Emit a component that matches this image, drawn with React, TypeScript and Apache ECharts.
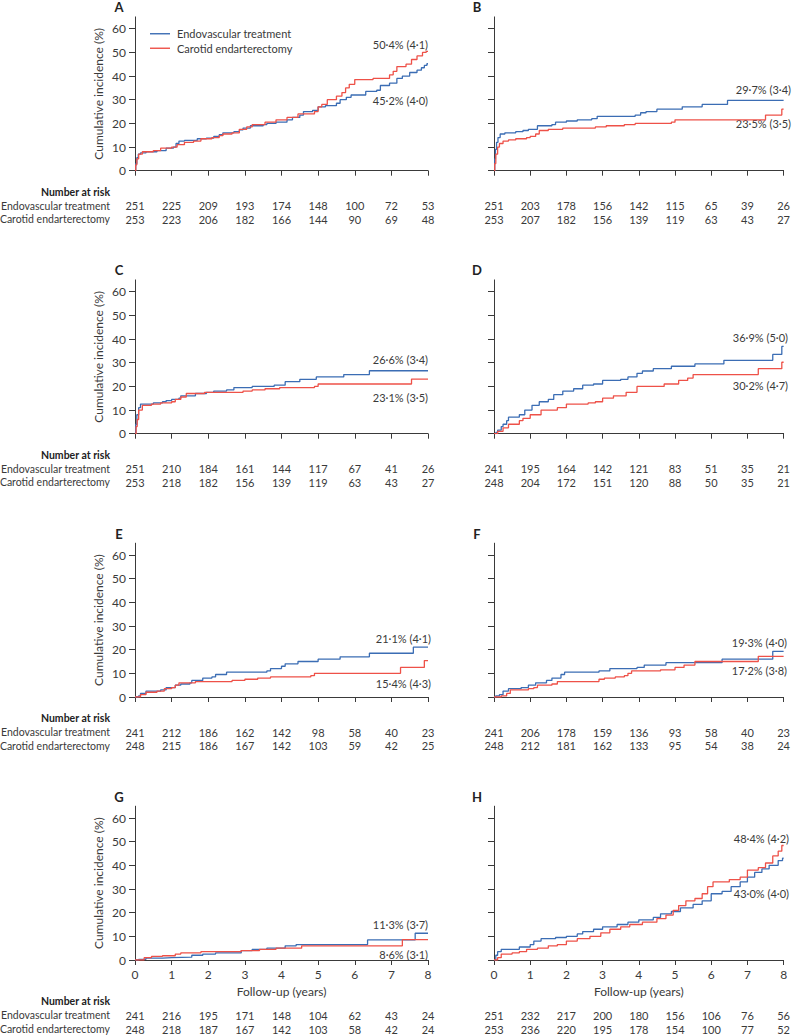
import React, { useEffect, useRef } from 'react';
import * as echarts from 'echarts';

// ---------- data ----------
const seriesNames = ['Endovascular treatment', 'Carotid endarterectomy'];
const panelLetters = ['A', 'B', 'C', 'D', 'E', 'F', 'G', 'H'];
const yTicks = [0, 10, 20, 30, 40, 50, 60];
const riskCategories = [0, 1, 2, 3, 4, 5, 6, 7, 8];

const endoA = [[0,0],[0.02,3],[0.05,5.5],[0.09,7],[0.15,7.5],[0.3,8],[0.6,8.5],[0.85,9.5],[1.05,10],[1.12,11.5],[1.2,12.5],[1.35,12.8],[1.7,13.5],[1.95,13.8],[2.15,14.5],[2.3,15.2],[2.4,16],[2.7,16.5],[2.85,17.3],[2.95,18],[3.15,19],[3.5,19.5],[3.6,20],[3.85,20.5],[4.15,21.5],[4.3,22.5],[4.5,23.5],[4.6,25],[4.85,25.5],[5.0,27],[5.2,27.5],[5.5,28.5],[5.6,30],[5.77,31],[5.9,32],[6.3,33.5],[6.6,34],[6.7,36],[6.95,37],[7.15,39],[7.3,40],[7.5,41.5],[7.7,42.5],[7.82,43.5],[7.9,44.5],[7.97,45.2],[8,45.2]];
const ceaA = [[0,0],[0.02,2.5],[0.05,5],[0.1,7],[0.2,8],[0.5,8.5],[0.7,9.5],[1.0,10],[1.15,11],[1.35,12],[1.6,12.5],[1.8,13.5],[2.1,14],[2.3,14.8],[2.4,15.5],[2.65,16],[2.85,17.5],[3.05,18.5],[3.2,19.5],[3.55,20.5],[3.85,21.5],[4.15,22.5],[4.45,24],[4.9,25],[5.0,27],[5.1,28],[5.25,30],[5.5,31.5],[5.65,33],[5.75,35],[5.85,36.5],[6.0,38.5],[6.5,39],[6.95,40.5],[7.05,42],[7.15,44],[7.4,45],[7.55,47],[7.7,48.5],[7.85,50],[7.95,50.4],[8,50.4]];

const endoB = [[0,0],[0.02,5],[0.04,9],[0.07,12],[0.11,14],[0.17,15.5],[0.3,16],[0.6,16.5],[0.8,17],[0.95,17.5],[1.2,19],[1.6,19.5],[1.7,20.5],[2.0,21],[2.3,21.5],[2.7,22],[2.85,23],[3.9,23.5],[4.05,24.5],[4.2,25],[4.5,26],[5.2,27],[5.75,28],[6.45,29.7],[8,29.7]];
const ceaB = [[0,0],[0.02,3],[0.05,7],[0.1,10],[0.15,11.5],[0.25,12.5],[0.4,13],[0.6,13.5],[0.9,14],[1.0,14.5],[1.15,15.5],[1.25,17],[1.5,17.5],[1.9,18],[2.8,18.5],[3.1,19],[3.6,19.5],[3.9,20],[4.9,20.5],[5.0,21.5],[7.5,23.5],[7.95,26],[8,26]];

const endoC = [[0,0],[0.02,4],[0.05,8],[0.1,11],[0.15,12.5],[0.5,13],[0.75,13.5],[0.85,14],[1.0,14.5],[1.2,15],[1.25,16],[1.65,17],[1.95,17.5],[2.15,18],[2.5,18.5],[2.7,19.5],[3.2,20],[3.8,20.5],[4.1,22],[4.5,23],[4.95,24],[5.7,25],[6.4,26.6],[8,26.6]];
const ceaC = [[0,0],[0.03,3],[0.06,6],[0.1,10],[0.2,12],[0.45,12.5],[0.7,13],[1.0,13.5],[1.1,14.5],[1.25,15.5],[1.4,17],[1.9,17.5],[2.95,18],[3.2,18.5],[3.55,19],[3.95,19.5],[4.9,20],[5.0,21],[7.55,23.1],[8,23.1]];

const endoD = [[0,0],[0.05,0.5],[0.1,1.5],[0.2,3],[0.25,4],[0.35,5.5],[0.4,7],[0.7,8],[0.85,10],[1.05,12],[1.25,13.5],[1.5,14.5],[1.65,16.5],[1.9,18],[2.2,19],[2.45,20.5],[2.75,21],[3.0,22.5],[3.5,23],[3.7,24],[3.95,25.5],[4.1,26.5],[4.4,27.5],[4.9,28.5],[5.55,29.5],[6.35,31],[7.7,33.5],[7.95,36.9],[8,36.9]];
const ceaD = [[0,0],[0.1,1],[0.25,2.5],[0.4,4],[0.7,5.5],[0.8,6.5],[1.0,8],[1.3,10],[1.75,11],[2.0,12.5],[2.6,13],[2.8,13.5],[3.0,15],[3.3,16],[3.65,17.5],[3.95,20],[4.7,21],[5.1,22.5],[5.35,23.5],[5.5,25],[7.3,27.5],[7.95,30.2],[8,30.2]];

const endoE = [[0,0],[0.1,0.5],[0.15,1.5],[0.3,2.5],[0.7,3],[0.85,4],[1.1,5],[1.25,5.5],[1.5,6],[1.55,7],[1.85,8],[2.1,8.5],[2.2,9.5],[2.5,10.5],[3.6,11],[3.7,12],[4.0,13],[4.1,14],[4.45,15],[5.0,16],[5.6,17],[6.4,18.5],[7.6,21.1],[8,21.1]];
const ceaE = [[0,0],[0.15,1],[0.3,2],[0.6,2.5],[0.8,3.5],[1.0,4],[1.1,5],[1.2,6],[1.65,6.5],[2.65,7],[3.0,7.5],[3.35,8],[3.7,8.5],[4.8,9],[4.9,10],[7.25,12.5],[7.9,15.4],[8,15.4]];

const endoF = [[0,0],[0.05,0.5],[0.15,1],[0.25,2.5],[0.4,3.5],[0.75,4],[0.95,5],[1.15,6],[1.45,7],[1.6,8],[1.85,9.5],[1.95,10.5],[2.9,11],[3.2,12],[3.95,12.5],[4.15,13.5],[4.75,14.5],[6.3,16],[7.7,19.3],[8,19.3]];
const ceaF = [[0,0],[0.2,0.5],[0.35,1.5],[0.45,3],[0.95,3.5],[1.1,4],[1.2,5],[1.6,5.5],[1.75,6.5],[2.9,7.5],[3.05,8],[3.35,8.5],[3.6,9],[3.7,10],[3.8,11],[4.6,11.5],[5.0,12.5],[5.25,13.5],[5.55,15],[7.3,17.2],[8,17.2]];

const endoG = [[0,0],[0.1,0.3],[0.3,0.8],[0.75,1],[1.0,1.2],[1.55,2],[1.85,2.5],[2.2,3],[2.9,4],[3.2,4.5],[3.6,5],[4.1,6],[4.4,6.5],[6.35,8.5],[7.65,11.3],[8,11.3]];
const ceaG = [[0,0],[0.25,1],[0.45,1.5],[0.75,1.8],[1.1,2.5],[1.25,3],[1.8,3.5],[2.9,4],[3.4,4.5],[3.85,5],[4.55,6],[7.3,8.6],[8,8.6]];

const endoH = [[0,0],[0.05,2],[0.1,3.5],[0.2,4.5],[0.7,5.5],[1.0,6.5],[1.1,8],[1.3,9],[1.7,9.5],[2.0,10],[2.3,11],[2.45,12],[2.75,13],[3.0,14],[3.4,15],[3.7,16],[4.0,17],[4.4,18],[4.6,19.5],[4.9,20.5],[5.15,22],[5.5,23.5],[5.75,25],[6.0,28],[6.3,29],[6.55,31],[6.8,33],[7.0,35],[7.2,37],[7.4,38.5],[7.6,40],[7.85,42],[7.97,43],[8,43]];
const ceaH = [[0,0],[0.1,1],[0.2,2.5],[0.5,3],[0.7,3.5],[0.9,4.5],[1.2,5],[1.5,6],[1.75,6.5],[2.0,8],[2.3,9],[2.65,10],[2.95,11.5],[3.2,13],[3.5,14],[3.75,15],[4.1,16],[4.5,17.5],[4.75,19],[4.95,21],[5.1,23],[5.3,25],[5.55,26],[5.75,28],[5.9,31],[6.05,33],[6.5,34],[6.8,35],[7.0,38],[7.3,39],[7.5,41],[7.7,44],[7.85,46],[7.95,48.4],[8,48.4]];

const riskEndoA = [251, 225, 209, 193, 174, 148, 100, 72, 53];
const riskCeaA = [253, 223, 206, 182, 166, 144, 90, 69, 48];
const riskEndoB = [251, 203, 178, 156, 142, 115, 65, 39, 26];
const riskCeaB = [253, 207, 182, 156, 139, 119, 63, 43, 27];
const riskEndoC = [251, 210, 184, 161, 144, 117, 67, 41, 26];
const riskCeaC = [253, 218, 182, 156, 139, 119, 63, 43, 27];
const riskEndoD = [241, 195, 164, 142, 121, 83, 51, 35, 21];
const riskCeaD = [248, 204, 172, 151, 120, 88, 50, 35, 21];
const riskEndoE = [241, 212, 186, 162, 142, 98, 58, 40, 23];
const riskCeaE = [248, 215, 186, 167, 142, 103, 59, 42, 25];
const riskEndoF = [241, 206, 178, 159, 136, 93, 58, 40, 23];
const riskCeaF = [248, 212, 181, 162, 133, 95, 54, 38, 24];
const riskEndoG = [241, 216, 195, 171, 148, 104, 62, 43, 24];
const riskCeaG = [248, 218, 187, 167, 142, 103, 58, 42, 24];
const riskEndoH = [251, 232, 217, 200, 180, 156, 106, 76, 56];
const riskCeaH = [253, 236, 220, 195, 178, 154, 100, 77, 52];

const annTop = ['50·4% (4·1)', '29·7% (3·4)', '26·6% (3·4)', '36·9% (5·0)', '21·1% (4·1)', '19·3% (4·0)', '11·3% (3·7)', '48·4% (4·2)'];
const annBottom = ['45·2% (4·0)', '23·5% (3·5)', '23·1% (3·5)', '30·2% (4·7)', '15·4% (4·3)', '17·2% (3·8)', '8·6% (3·1)', '43·0% (4·0)'];

const endoCurves = [endoA, endoB, endoC, endoD, endoE, endoF, endoG, endoH];
const ceaCurves = [ceaA, ceaB, ceaC, ceaD, ceaE, ceaF, ceaG, ceaH];
const riskEndo = [riskEndoA, riskEndoB, riskEndoC, riskEndoD, riskEndoE, riskEndoF, riskEndoG, riskEndoH];
const riskCea = [riskCeaA, riskCeaB, riskCeaC, riskCeaD, riskCeaE, riskCeaF, riskCeaG, riskCeaH];

// ---------- style / layout ----------
const FONT = 'Lato, "Noto Sans", sans-serif';
const BLUE = '#3b6db4';
const RED = '#ee5148';
const AXIS = '#3a3a3a';
const TEXT = '#3a3a3a';
const rowZero = [170.7, 433.7, 697, 960];
const plotH = 153.8;
const colLeft = [135, 494];
const colWidth = [293, 294];
// annotation positions: [rightX, topY, bottomY]
const annPos = [
  [428, 44, 100], [791, 89, 123],
  [428, 359, 397], [788, 337, 385],
  [431, 638, 683], [787, 642, 670],
  [428, 924, 954], [789, 838, 893],
];

function buildOption() {
  const grid: any[] = [];
  const xAxis: any[] = [];
  const yAxis: any[] = [];
  const series: any[] = [];
  const graphic: any[] = [];

  panelLetters.forEach((letter, i) => {
    const col = i % 2;
    const row = Math.floor(i / 2);
    const bottomRow = row === 3;
    const zero = rowZero[row];
    grid.push({ left: colLeft[col], top: zero - plotH, width: colWidth[col], height: plotH });

    xAxis.push({
      type: 'value', gridIndex: i, min: 0, max: 8, interval: 1,
      axisLine: { show: true, onZero: false, lineStyle: { color: AXIS, width: 1 } },
      axisTick: { show: true, length: 5, lineStyle: { color: AXIS } },
      axisLabel: { show: bottomRow, fontSize: 12, color: TEXT, fontFamily: FONT, margin: 8 },
      splitLine: { show: false },
      name: bottomRow ? 'Follow-up (years)' : '',
      nameLocation: 'middle', nameGap: 25,
      nameTextStyle: { fontSize: 12, color: TEXT, fontFamily: FONT },
    });
    const riskOffsets = bottomRow ? [55, 69] : [35, 48.5];
    [riskEndo[i], riskCea[i]].forEach((arr, k) => {
      xAxis.push({
        type: 'category', gridIndex: i, position: 'bottom', offset: riskOffsets[k],
        data: riskCategories.map((c, j) => ({ value: String(arr[j]) })),
        boundaryGap: false,
        axisLine: { show: false, onZero: false },
        axisTick: { show: false },
        splitLine: { show: false },
        axisLabel: { show: true, interval: 0, margin: 0, verticalAlign: 'middle', fontSize: 11, color: TEXT, fontFamily: FONT },
      });
    });

    yAxis.push({
      type: 'value', gridIndex: i, min: 0, max: 65,
      axisLine: { show: true, lineStyle: { color: AXIS, width: 1 } },
      axisTick: { show: true, length: 6, lineStyle: { color: AXIS }, customValues: yTicks },
      axisLabel: { show: col === 0, customValues: yTicks, fontSize: 12, color: TEXT, fontFamily: FONT, margin: 9 },
      splitLine: { show: false },
      name: col === 0 ? 'Cumulative incidence (%)' : '',
      nameLocation: 'middle', nameGap: 31, nameRotate: 90,
      nameTextStyle: { fontSize: 12, color: TEXT, fontFamily: FONT },
    });

    [endoCurves[i], ceaCurves[i]].forEach((data, k) => {
      series.push({
        type: 'line', name: seriesNames[k], xAxisIndex: i * 3, yAxisIndex: i,
        data, step: 'end', symbol: 'none', showSymbol: false, silent: true,
        lineStyle: { color: k === 0 ? BLUE : RED, width: 1.3 },
        itemStyle: { color: k === 0 ? BLUE : RED },
      });
    });

    // panel letter
    graphic.push({
      type: 'text', x: col === 0 ? 119 : 477, y: zero - 163.5,
      style: { text: letter, font: `bold 13px ${FONT}`, fill: '#222', align: 'center', verticalAlign: 'middle', textAlign: 'center', textVerticalAlign: 'middle' },
    });
    // annotations
    const [ax, ay1, ay2] = annPos[i];
    [[annTop[i], ay1], [annBottom[i], ay2]].forEach(([t, y]) => {
      graphic.push({
        type: 'text', x: ax, y: y as number,
        style: { text: t as string, font: `11px ${FONT}`, fill: TEXT, align: 'right', verticalAlign: 'middle', textAlign: 'right', textVerticalAlign: 'middle' },
      });
    });
    // risk table row labels (left panels only)
    if (col === 0) {
      const offs = bottomRow ? [41, 55, 69] : [21, 35, 48.5];
      const labels = ['Number at risk', seriesNames[0], seriesNames[1]];
      labels.forEach((t, k) => {
        graphic.push({
          type: 'text', x: 110, y: zero + offs[k],
          style: { text: t, font: `${k === 0 ? 'bold ' : ''}10.5px ${FONT}`, fill: k === 0 ? '#222' : TEXT, align: 'right', verticalAlign: 'middle', textAlign: 'right', textVerticalAlign: 'middle' },
        });
      });
    }
  });

  return {
    animation: false,
    backgroundColor: '#ffffff',
    textStyle: { fontFamily: FONT },
    grid, xAxis, yAxis, series, graphic,
    legend: {
      show: true, left: 145, top: 22, orient: 'vertical',
      icon: 'rect', itemWidth: 20, itemHeight: 1.4, itemGap: 1,
      data: seriesNames,
      textStyle: { fontSize: 11, color: TEXT, fontFamily: FONT, padding: [0, 0, 0, 2], lineHeight: 13.5 },
    },
  };
}

export default function App() {
  const ref = useRef<HTMLDivElement>(null);
  useEffect(() => {
    document.body.style.margin = '0';
    const chart = echarts.init(ref.current as HTMLDivElement, null, { renderer: 'svg' });
    chart.setOption(buildOption() as any);
    return () => chart.dispose();
  }, []);
  return <div ref={ref} style={{ width: 793, height: 1036 }} />;
}
